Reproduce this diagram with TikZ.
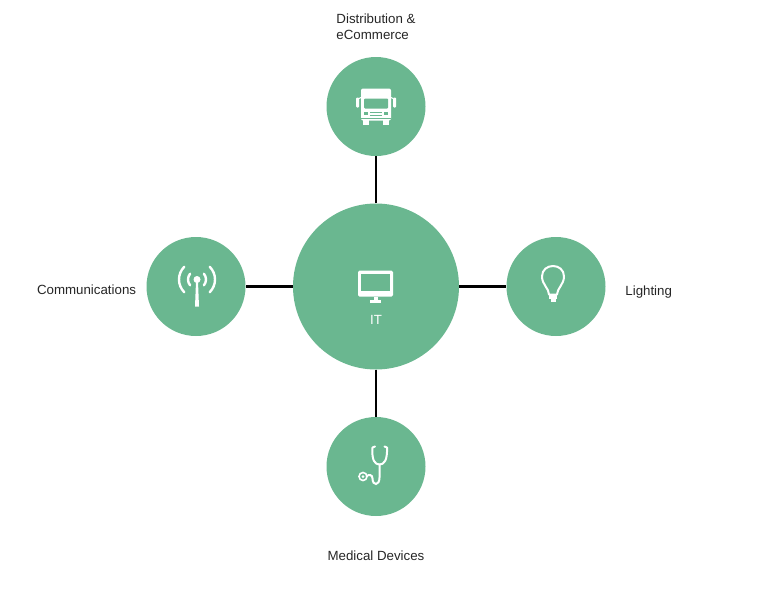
\documentclass[tikz,border=0pt]{standalone}
\usepackage{fontspec}
\setmainfont{Liberation Sans}
\usetikzlibrary{positioning}
\definecolor{hubgreen}{RGB}{106,183,144}
\tikzset{
node distance=180pt, % centre to centre between the circles
hub/.style={circle, fill=hubgreen, minimum size=166pt, inner sep=0pt}, % the big middle circle
spoke/.style={circle, fill=hubgreen, minimum size=99pt, inner sep=0pt, on grid}, % the four outer circles
link/.style={line width=2.6pt, black}, % connectors
caption/.style={font=\fontsize{13.3}{16}\selectfont, text=black!85, inner sep=0pt},
glyph/.style={white, line width=2.4pt, line cap=round, line join=round}, % icon strokes
}

\begin{document}
\begin{tikzpicture}[x=1pt, y=-1pt]
    \useasboundingbox (0,0) rectangle (768,592);
    \node[hub] (it) at (376,286.5) {};
    \node[spoke, above = of it] (dist) {};
    \node[spoke, left = of it] (comm) {};
    \node[spoke, right = of it] (light) {};
    \node[spoke, below = of it] (med) {};
    \draw[link] (it) -- (dist)
    (it) -- (comm)
    (it) -- (light)
    (it) -- (med);
    % captions
    \node[caption, align=left, above = 17pt of dist] (distlabel) {Distribution \&\\eCommerce};
    \node[caption, anchor=base east] (commlabel) at ([xshift=-10pt, yshift=-8pt]comm.west) {Communications};
    \node[caption, anchor=base west] (lightlabel) at ([xshift=19.5pt, yshift=-8.5pt]light.east) {Lighting};
    \node[caption, below = 34pt of med] (medlabel) {Medical Devices};
    \node[caption, text=white] (itlabel) at ([yshift=-33.5pt]it.center) {IT};
    % monitor
    \begin{scope}[shift={(it.center)}]
        \fill[white, rounded corners=1.5pt] (-18,-16) rectangle (17,10);
        \fill[hubgreen] (-15,-13) rectangle (14,4);
        \fill[white] (-2.5,10) rectangle (1.5,14);
        \fill[white] (-6,13) rectangle (5,16);
    \end{scope}
    % truck
    \begin{scope}[shift={(dist.center)}]
        \fill[white, rounded corners=2pt] (-15,-18) rectangle (15,14);
        \fill[white] (-13,13) rectangle (-7,18);
        \fill[white] (7,13) rectangle (13,18);
        \fill[white, rounded corners=1pt] (-20,-9) rectangle (-17,1);
        \fill[white, rounded corners=1pt] (17,-9) rectangle (20,1);
        \draw[white, line width=1pt] (-17,-8) -- (-15,-9) (17,-8) -- (15,-9);
        \fill[hubgreen, rounded corners=1pt] (-12,-8) rectangle (12,2);
        \fill[hubgreen] (-6,5) rectangle (6,6.2);
        \fill[hubgreen] (-6,8) rectangle (6,9.2);
        \fill[hubgreen] (-12,5) rectangle (-8,8);
        \fill[hubgreen] (8,5) rectangle (12,8);
        \fill[hubgreen] (-15,11) rectangle (15,12);
    \end{scope}
    % antenna
    \begin{scope}[shift={(comm.center)}]
        \fill[white] (1,-7) circle (3.5pt);
        \fill[white] (0,-5) -- (2,-5) -- (3,20) -- (-1,20) -- cycle;
        \draw[glyph] (1,-7) ++(40:9) arc (40:-40:9);
        \draw[glyph] (1,-7) ++(140:9) arc (140:220:9);
        \draw[glyph] (1,-7) ++(45:18) arc (45:-45:18);
        \draw[glyph] (1,-7) ++(135:18) arc (135:225:18);
    \end{scope}
    % light bulb
    \begin{scope}[shift={(light.center)}]
        \draw[white, line width=2pt, line join=round] (-7,8)
            .. controls (-7,2) and (-14,-2) .. (-14,-10)
            .. controls (-14,-24) and (8,-24) .. (8,-10)
            .. controls (8,-2) and (1,2) .. (1,8) -- cycle;
        \fill[white] (-7,8) rectangle (1,12);
        \fill[white] (-5.5,12) rectangle (-0.5,15.5);
    \end{scope}
    % stethoscope
    \begin{scope}[shift={(med.center)}]
        \draw[white, line width=2pt, line cap=round, line join=round]
            (-1,-20) -- (-3.5,-19) .. controls (-4.5,-6) and (-1,-2) .. (3.5,-2)
            .. controls (8,-2) and (11.5,-6) .. (11,-19) -- (8.5,-20);
        \draw[white, line width=2pt, line cap=round]
            (3.5,-2) -- (3.5,11) .. controls (3.5,19.5) and (-3.5,19.5) .. (-3.5,12)
            .. controls (-3.5,8) and (-7,8) .. (-9.5,9.5);
        \draw[white, line width=1.6pt] (-13,10) circle (4pt);
        \fill[white] (-13,10) circle (1.5pt);
    \end{scope}
\end{tikzpicture}
\end{document}
